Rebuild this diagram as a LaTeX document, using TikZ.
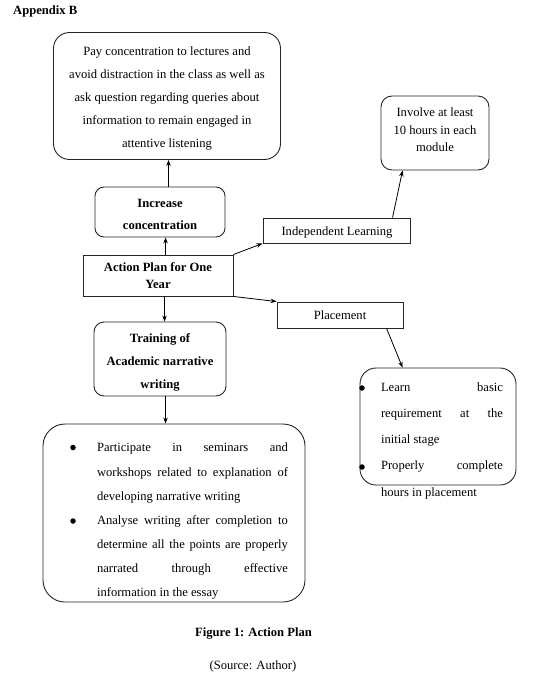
\documentclass[tikz,border=0pt]{standalone}
\usepackage{fontspec}
\setmainfont{Liberation Serif}
\usetikzlibrary{arrows.meta,calc}
\begin{document}
\begin{tikzpicture}[x=1pt,y=-1pt,
  box/.style={draw=black!85,line width=0.9pt,inner sep=0pt,align=center},
  rbox/.style={box,rounded corners=#1},
  txt/.style={inner sep=0pt,align=center},
  para/.style={inner sep=0pt,text width=#1,align=justify},
  f/.style={font=\fontsize{12.6}{#1}\selectfont},
  fb/.style={font=\fontsize{12.6}{#1}\selectfont\bfseries},
  bul/.style={circle,fill=black,inner sep=0pt,minimum size=5.5pt},
  arr/.style={draw=black,line width=0.8pt,-{Stealth[length=6pt,width=4.5pt]}},
]
\useasboundingbox (0,0) rectangle (536,677);
\tolerance=10000 \hbadness=10000 \hyphenpenalty=10000 \exhyphenpenalty=10000

\node[txt,anchor=west,fb=15] (app) at (13,11) {Appendix B};

\node[rbox=16pt,minimum width=227pt,minimum height=127pt] (top) at (167,96) {};
\node[txt,f=22.8] (topt) at (167,98.5)
  {Pay concentration to lectures and\\avoid distraction in the class as well as\\ask question regarding queries about\\information to remain engaged in\\attentive listening};

\node[rbox=9pt,minimum width=130pt,minimum height=50pt] (inc) at (160,212) {};
\node[txt,fb=22.5] (inct) at (160,214.5) {Increase\\concentration};

\node[box,minimum width=150pt,minimum height=41pt,fb=17] (act) at (158,275.5) {Action Plan for One\\Year};

\node[box,minimum width=147pt,minimum height=25pt] (ind) at (336.5,230.5) {};
\node[txt,f=15] (indt) at (337,232) {Independent Learning};

\node[box,minimum width=126pt,minimum height=26pt,f=15] (pl) at (340,315) {Placement};

\node[rbox=11pt,minimum width=108pt,minimum height=74pt] (inv) at (435,133) {};
\node[txt,f=17.5] (invt) at (435,130) {Involve at least\\10 hours in each\\module};

\node[rbox=10pt,minimum width=132pt,minimum height=74pt] (trn) at (160,359) {};
\node[txt,fb=23] (trnt) at (160,362.5) {Training of\\Academic narrative\\writing};

\node[rbox=16pt,minimum width=156pt,minimum height=117pt] (lrn) at (438,426.5) {};
\node[bul] (lb1) at (362,388) {};
\node[bul] (lb2) at (362,467) {};
\node[para=122pt,f=26.3] (l1) at (442,414.3) {Learn basic\linebreak requirement at the\linebreak initial stage};
\node[para=122pt,f=26.3] (l2) at (442,480) {Properly complete\linebreak hours in placement};

\node[rbox=22pt,minimum width=262pt,minimum height=178pt] (bot) at (174,513) {};
\node[bul] (bb1) at (73,447.5) {};
\node[bul] (bb2) at (73,521) {};
\node[para=191pt,f=24.2] (b1) at (192.5,473) {Participate in seminars and\linebreak workshops related to explanation of\linebreak developing narrative writing};
\node[para=191pt,f=24.2] (b2) at (192.5,557.5) {Analyse writing after completion to\linebreak determine all the points are properly\linebreak narrated through effective\linebreak information in the essay};

\node[txt,fb=15] (cap) at (253.5,633.5) {Figure 1: Action Plan};
\node[txt,f=15] (src) at (253,666) {(Source: Author)};

\coordinate (a1) at ($(act.north west)+(83,0)$);
\draw[arr] (a1) -- (a1 |- inc.south);
\coordinate (a2) at ($(inc.north west)+(74,0)$);
\draw[arr] (a2) -- (a2 |- top.south);
\coordinate (a3) at ($(act.south west)+(82,0)$);
\draw[arr] (a3) -- (a3 |- trn.north);
\coordinate (a4) at ($(trn.south west)+(72,0)$);
\draw[arr] (a4) -- (a4 |- bot.north);
\draw[arr] (act.north east) -- (ind.south west);
\draw[arr] (act.south east) -- (pl.north west);
\coordinate (a5) at ($(ind.north west)+(130,0)$);
\coordinate (a6) at ($(inv.south west)+(22,0)$);
\draw[arr] (a5) -- (a6);
\coordinate (a7) at ($(pl.south west)+(110,0)$);
\coordinate (a8) at ($(lrn.north west)+(43,0)$);
\draw[arr] (a7) -- (a8);
\end{tikzpicture}
\end{document}
